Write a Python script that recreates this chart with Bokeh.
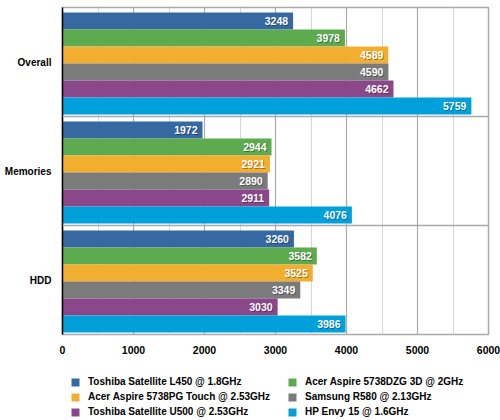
from bokeh.plotting import figure
from bokeh.layouts import column
from bokeh.models import ColumnDataSource, FactorRange, Range1d, FixedTicker, Span, Legend, LegendItem
from bokeh.transform import dodge
from bokeh.core.properties import value
from bokeh.embed import file_html
from bokeh.resources import INLINE

# ---- data ----
categories = ["Overall", "Memories", "HDD"]
series_names = [
    "Toshiba Satellite L450 @ 1.8GHz",
    "Acer Aspire 5738DZG 3D @ 2GHz",
    "Acer Aspire 5738PG Touch @ 2.53GHz",
    "Samsung R580 @ 2.13GHz",
    "Toshiba Satellite U500 @ 2.53GHz",
    "HP Envy 15 @ 1.6GHz",
]
toshiba_l450 = [3248, 1972, 3260]
acer_5738dzg = [3978, 2944, 3582]
acer_5738pg = [4589, 2921, 3525]
samsung_r580 = [4590, 2890, 3349]
toshiba_u500 = [4662, 2911, 3030]
hp_envy15 = [5759, 4076, 3986]
x_ticks = [0, 1000, 2000, 3000, 4000, 5000, 6000]
x_minor_ticks = [500, 1500, 2500, 3500, 4500, 5500]

series_values = [toshiba_l450, acer_5738dzg, acer_5738pg, samsung_r580, toshiba_u500, hp_envy15]
colors = ["#3668A2", "#5DAA4F", "#F2AF2F", "#7B7B7B", "#8A488A", "#00A1DB"]
keys = ["s0", "s1", "s2", "s3", "s4", "s5"]

data = {"cat": categories}
for k, vals in zip(keys, series_values):
    data[k] = vals
    data[k + "_lbl"] = [str(v) for v in vals]
source = ColumnDataSource(data)

FONT = value("Liberation Sans")
W, H = 500, 370
BL, BR, BT, BB = 62, 12, 7, 36
frame_h = H - BT - BB

p = figure(
    width=W, height=H,
    y_range=FactorRange(factors=categories[::-1]),
    x_range=Range1d(0, 6000),
    output_backend="svg", toolbar_location=None,
    min_border_left=BL, min_border_right=BR, min_border_top=BT, min_border_bottom=BB,
    background_fill_color="white", border_fill_color="white",
)
p.outline_line_color = "#a9a9a9"
p.outline_line_width = 1.5

# grid
p.xgrid.ticker = FixedTicker(ticks=x_ticks, minor_ticks=x_minor_ticks)
p.xgrid.grid_line_color = "#ababab"
p.xgrid.grid_line_width = 1.2
p.xgrid.minor_grid_line_color = "#d6d6d6"
p.xgrid.minor_grid_line_width = 1
p.ygrid.grid_line_color = None

for loc in (1, 2):
    p.add_layout(Span(location=loc, dimension="width", line_color="#a9a9a9", line_width=1.5))

# bars
unit_px = frame_h / 3.0
bar_h = 17 / unit_px
top_pad = 5 / unit_px
for i, (k, c) in enumerate(zip(keys, colors)):
    off = 0.5 - top_pad - bar_h * (i + 0.5)
    p.hbar(y=dodge("cat", off, range=p.y_range), right=k, left=0, height=bar_h,
           source=source, fill_color=c, line_color=None)
    p.text(x=k, y=dodge("cat", off, range=p.y_range), text=k + "_lbl", source=source,
           text_align="right", text_baseline="middle", x_offset=-4, y_offset=1,
           text_color="black", text_alpha=0.35, text_font=FONT,
           text_font_size="10.5px", text_font_style="bold")
    p.text(x=k, y=dodge("cat", off, range=p.y_range), text=k + "_lbl", source=source,
           text_align="right", text_baseline="middle", x_offset=-5,
           text_color="white", text_font=FONT,
           text_font_size="10.5px", text_font_style="bold")

# axes
p.xaxis.ticker = FixedTicker(ticks=x_ticks)
p.xaxis.axis_line_color = None
p.xaxis.major_tick_line_color = None
p.xaxis.minor_tick_line_color = None
p.xaxis.major_tick_out = 0
p.xaxis.major_tick_in = 0
p.xaxis.minor_tick_out = 0
p.xaxis.minor_tick_in = 0
p.xaxis.major_label_standoff = 11
p.xaxis.major_label_text_font = "Liberation Sans"
p.xaxis.major_label_text_font_style = "bold"
p.xaxis.major_label_text_font_size = "10.5px"
p.xaxis.major_label_text_color = "black"

p.yaxis.axis_line_color = "black"
p.yaxis.axis_line_width = 1.5
p.yaxis.major_tick_line_color = None
p.yaxis.minor_tick_line_color = None
p.yaxis.major_tick_out = 0
p.yaxis.major_tick_in = 0
p.yaxis.major_label_standoff = 11
p.yaxis.major_label_text_font = "Liberation Sans"
p.yaxis.major_label_text_font_style = "bold"
p.yaxis.major_label_text_font_size = "10px"
p.yaxis.major_label_text_color = "black"

# ---- legend strip (separate figure below) ----
lp = figure(width=W, height=50, x_range=Range1d(0, 6000),
            y_range=FactorRange(factors=categories[::-1]),
            output_backend="svg", toolbar_location=None,
            min_border_left=0, min_border_right=0, min_border_top=0, min_border_bottom=0,
            background_fill_color="white", border_fill_color="white")
lp.axis.visible = False
lp.grid.grid_line_color = None
lp.outline_line_color = None

swatches = [lp.hbar(y="cat", right=k, left=0, height=0.5, source=source,
                    fill_color=c, line_color=None, visible=False)
            for k, c in zip(keys, colors)]

def make_legend(idx, loc):
    lg = Legend(
        items=[LegendItem(label=series_names[i], renderers=[swatches[i]]) for i in idx],
        location=loc, orientation="vertical",
        glyph_width=10, glyph_height=10, label_standoff=8, label_height=10,
        spacing=4, padding=0, margin=0,
        border_line_color=None, background_fill_alpha=0,
        inactive_fill_alpha=0,
        label_text_font="Liberation Sans", label_text_font_style="bold",
        label_text_font_size="10px", label_text_color="black",
    )
    lp.add_layout(lg, "center")

make_legend([0, 2, 4], (8, 3))
make_legend([1, 3, 5], (225, 3))

open("out.html", "w").write(file_html(column(p, lp), INLINE))
